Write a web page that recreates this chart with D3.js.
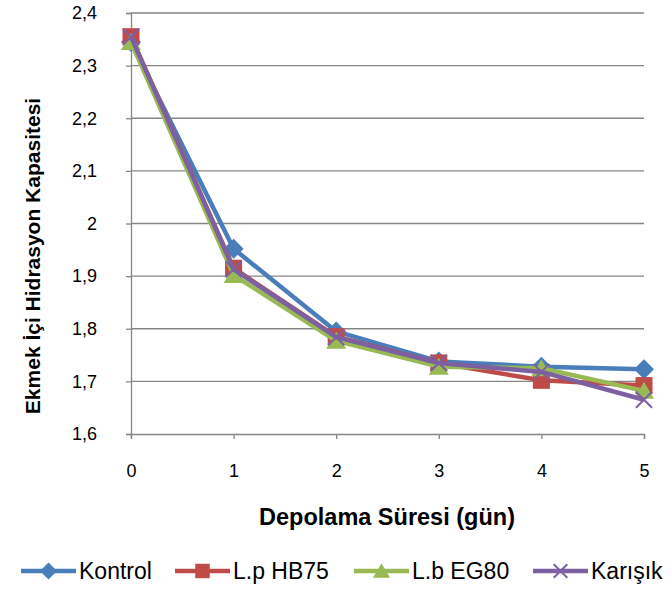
<!DOCTYPE html>
<html>
<head>
<meta charset="utf-8">
<script src="https://cdn.jsdelivr.net/npm/d3@7"></script>
<style>
  body { margin: 0; background: #fff; }
  svg { display: block; }
</style>
</head>
<body>
<div id="chart"></div>
<script>
const days = [0, 1, 2, 3, 4, 5];
const yTicks = [1.6, 1.7, 1.8, 1.9, 2.0, 2.1, 2.2, 2.3, 2.4];

const kontrol = [2.345, 1.952, 1.795, 1.738, 1.728, 1.723];
const lpHB75 = [2.355, 1.915, 1.785, 1.735, 1.702, 1.692];
const lbEG80 = [2.345, 1.902, 1.777, 1.728, 1.725, 1.682];
const karisik = [2.355, 1.913, 1.784, 1.735, 1.718, 1.665];

const seriesNames = ["Kontrol", "L.p HB75", "L.b EG80", "Karışık"];
const seriesColours = ["#4a7ebb", "#be4b48", "#98b954", "#7d60a0"];
const seriesShapes = ["diamond", "square", "triangle", "cross"];

const width = 671;
const height = 589;
const margin = { top: 13, right: 27, bottom: 155, left: 131 };
const graphW = width - margin.left - margin.right;
const graphH = height - margin.top - margin.bottom;
const font = "'Liberation Sans', Arial, sans-serif";

const series = [kontrol, lpHB75, lbEG80, karisik].map((vals, i) => ({
    name: seriesNames[i],
    colour: seriesColours[i],
    shape: seriesShapes[i],
    values: vals.map((v, j) => ({ day: days[j], value: v }))
}));

const svg = d3.select("#chart").append("svg")
    .attr("width", width)
    .attr("height", height);

const group = svg.append("g")
    .attr("transform", `translate(${margin.left}, ${margin.top})`);

const x = d3.scaleLinear().domain([0, 5]).range([0, graphW]);
const y = d3.scaleLinear().domain([1.6, 2.4]).range([graphH, 0]);

const fmt = d => String(+d.toFixed(1)).replace(".", ",");

// gridlines
group.append("g")
    .selectAll("line")
    .data(yTicks.slice(1))
    .enter()
    .append("line")
    .attr("x1", 0)
    .attr("x2", graphW)
    .attr("y1", d => y(d))
    .attr("y2", d => y(d))
    .attr("stroke", "#868686")
    .attr("stroke-width", 1.3);

// y axis
const yAxis = group.append("g")
    .style("font-family", font)
    .style("font-size", "18px")
    .call(d3.axisLeft(y).tickValues(yTicks).tickSize(5).tickPadding(29).tickFormat(fmt));
yAxis.select(".domain").attr("stroke", "#868686").attr("stroke-width", 1.3);
yAxis.selectAll(".tick line").attr("stroke", "#868686").attr("stroke-width", 1.3);
yAxis.selectAll(".tick text").attr("fill", "#000");

// x axis
const xAxis = group.append("g")
    .attr("transform", `translate(0, ${graphH})`)
    .style("font-family", font)
    .style("font-size", "18px")
    .call(d3.axisBottom(x).tickValues(days).tickSize(5).tickPadding(25).tickFormat(d3.format("d")));
xAxis.select(".domain").attr("stroke", "#868686").attr("stroke-width", 1.3);
xAxis.selectAll(".tick line").attr("stroke", "#868686").attr("stroke-width", 1.3);
xAxis.selectAll(".tick text").attr("fill", "#000");

// axis titles
svg.append("text")
    .attr("x", 387)
    .attr("y", 525)
    .attr("text-anchor", "middle")
    .style("font-family", font)
    .style("font-size", "23.5px")
    .style("font-weight", "bold")
    .text("Depolama Süresi (gün)");

svg.append("text")
    .attr("transform", "translate(40, 256) rotate(-90)")
    .attr("text-anchor", "middle")
    .style("font-family", font)
    .style("font-size", "21px")
    .style("font-weight", "bold")
    .text("Ekmek İçi Hidrasyon Kapasitesi");

function drawMarker(sel, shape, colour, k) {
    if (shape === "diamond") {
        sel.append("path")
            .attr("d", `M0,${-10 * k}L${10 * k},0L0,${10 * k}L${-10 * k},0Z`)
            .attr("fill", colour);
    } else if (shape === "square") {
        sel.append("rect")
            .attr("x", -8.5 * k).attr("y", -8.5 * k)
            .attr("width", 17 * k).attr("height", 17 * k)
            .attr("fill", colour);
    } else if (shape === "triangle") {
        sel.append("path")
            .attr("d", `M0,${-9 * k}L${10 * k},${8 * k}L${-10 * k},${8 * k}Z`)
            .attr("fill", colour);
    } else {
        sel.append("path")
            .attr("d", `M${-8 * k},${-8 * k}L${8 * k},${8 * k}M${-8 * k},${8 * k}L${8 * k},${-8 * k}`)
            .attr("stroke", colour)
            .attr("stroke-width", 2)
            .attr("fill", "none");
    }
}

const line = d3.line()
    .x(d => x(d.day))
    .y(d => y(d.value));

series.forEach(s => {
    const g = group.append("g");
    g.append("path")
        .datum(s.values)
        .attr("d", line)
        .attr("fill", "none")
        .attr("stroke", s.colour)
        .attr("stroke-width", 4.5)
        .attr("stroke-linejoin", "round");
    g.selectAll(".pt")
        .data(s.values)
        .enter()
        .append("g")
        .attr("transform", d => `translate(${x(d.day)}, ${y(d.value)})`)
        .each(function () { drawMarker(d3.select(this), s.shape, s.colour, 1); });
});

// legend
const legendX = [21, 175, 354, 533];
const legend = svg.append("g").attr("transform", "translate(0, 571)");
series.forEach((s, i) => {
    const item = legend.append("g").attr("transform", `translate(${legendX[i]}, 0)`);
    item.append("line")
        .attr("x1", 0).attr("x2", 55)
        .attr("stroke", s.colour)
        .attr("stroke-width", 4.5);
    drawMarker(item.append("g").attr("transform", "translate(27.5, 0)"), s.shape, s.colour, 0.85);
    item.append("text")
        .attr("x", 58)
        .attr("y", 0)
        .attr("dy", "0.36em")
        .style("font-family", font)
        .style("font-size", "23px")
        .text(s.name);
});
</script>
</body>
</html>
